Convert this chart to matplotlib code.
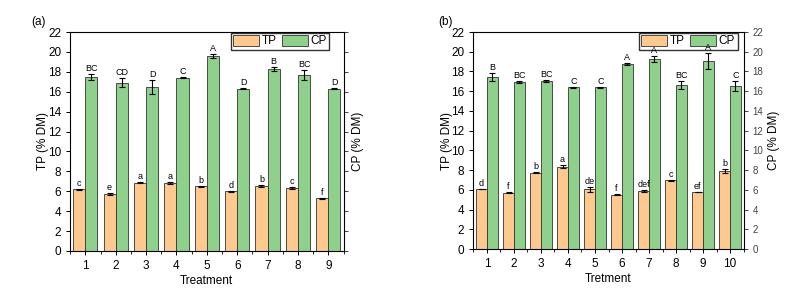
import numpy as np
import matplotlib.pyplot as plt
from matplotlib.ticker import MultipleLocator

plt.rcParams['font.family'] = ['Liberation Sans', 'DejaVu Sans']

# panel (a)
treat_a = np.arange(1, 10)
tp_a = [6.2, 5.7, 6.85, 6.8, 6.5, 6.0, 6.5, 6.3, 5.3]
tp_a_err = [0.05, 0.1, 0.05, 0.1, 0.03, 0.05, 0.1, 0.1, 0.05]
tp_a_lab = ['c', 'e', 'a', 'a', 'b', 'd', 'b', 'c', 'f']
cp_a = [17.45, 16.9, 16.5, 17.4, 19.6, 16.3, 18.3, 17.65, 16.3]
cp_a_err = [0.3, 0.45, 0.7, 0.05, 0.2, 0.05, 0.2, 0.5, 0.05]
cp_a_lab = ['BC', 'CD', 'D', 'C', 'A', 'D', 'B', 'BC', 'D']

# panel (b)
treat_b = np.arange(1, 11)
tp_b = [6.1, 5.7, 7.75, 8.35, 6.05, 5.5, 5.85, 7.0, 5.8, 7.95]
tp_b_err = [0.03, 0.05, 0.03, 0.15, 0.25, 0.05, 0.1, 0.05, 0.02, 0.2]
tp_b_lab = ['d', 'f', 'b', 'a', 'de', 'f', 'def', 'c', 'ef', 'b']
cp_b = [17.45, 16.95, 17.0, 16.4, 16.4, 18.75, 19.3, 16.6, 19.05, 16.5]
cp_b_err = [0.4, 0.1, 0.1, 0.05, 0.05, 0.1, 0.3, 0.4, 0.8, 0.5]
cp_b_lab = ['B', 'BC', 'BC', 'C', 'C', 'A', 'A', 'BC', 'A', 'C']

tp_col = '#FDC98F'
cp_col = '#8FD18C'

fig = plt.figure(figsize=(7.97, 3.02), dpi=100)


def panel(rect, x, tp, tpe, tpl, cp, cpe, cpl, xlabel, tag, tagx, right_labels, legx):
    ax = fig.add_axes(rect)
    w = 0.4
    ax.bar(x - w / 2, tp, w, color=tp_col, edgecolor='#333333', lw=0.6, label='TP')
    ax.bar(x + w / 2, cp, w, color=cp_col, edgecolor='#333333', lw=0.6, label='CP')
    ax.errorbar(x - w / 2, tp, yerr=tpe, fmt='none', ecolor='black', elinewidth=0.8, capsize=2, capthick=0.8)
    ax.errorbar(x + w / 2, cp, yerr=cpe, fmt='none', ecolor='black', elinewidth=0.8, capsize=2, capthick=0.8)
    for xi, v, e, s in zip(x, tp, tpe, tpl):
        ax.text(xi - w / 2, v + e + 0.1, s, ha='center', va='bottom', fontsize=6.5)
    for xi, v, e, s in zip(x, cp, cpe, cpl):
        ax.text(xi + w / 2, v + e + 0.1, s, ha='center', va='bottom', fontsize=6.5)
    ax.set_xlim(0.5, x[-1] + 0.5)
    ax.set_ylim(0, 22)
    ax.set_xticks(x)
    ax.xaxis.set_minor_locator(MultipleLocator(0.5))
    ax.yaxis.set_major_locator(MultipleLocator(2))
    ax.tick_params(direction='out', labelsize=8.5, length=3, width=0.7)
    ax.tick_params(axis='x', which='minor', length=2, width=0.6)
    ax.set_xlabel(xlabel, fontsize=8.5, labelpad=2)
    ax.set_ylabel('TP (% DM)', fontsize=8.5, labelpad=-1)
    for sp in ax.spines.values():
        sp.set_linewidth(0.7)
    ax2 = ax.twinx()
    ax2.set_ylim(0, 22)
    ax2.yaxis.set_major_locator(MultipleLocator(2))
    ax2.tick_params(direction='out', labelsize=7, length=3, width=0.7, labelright=right_labels, colors='#444444')
    ax2.set_ylabel('CP (% DM)', fontsize=8.5, labelpad=3)
    leg = ax.legend(loc='upper right', bbox_to_anchor=(legx, 1.0), ncol=2, fontsize=8.5, frameon=True,
                    fancybox=False, edgecolor='black', handlelength=2.2, handleheight=1.05,
                    columnspacing=0.4, handletextpad=0.25, borderpad=0.2, borderaxespad=0.05)
    leg.set_zorder(1)
    ax.text(tagx, 1.045, tag, transform=ax.transAxes, fontsize=8.5, ha='center', va='center')


panel([0.088, 0.169, 0.343, 0.725], treat_a, tp_a, tp_a_err, tp_a_lab, cp_a, cp_a_err, cp_a_lab,
      'Treatment', '(a)', -0.117, False, 0.95)
panel([0.594, 0.175, 0.339, 0.719], treat_b, tp_b, tp_b_err, tp_b_lab, cp_b, cp_b_err, cp_b_lab,
      'Tretment', '(b)', -0.104, True, 0.98)

fig.savefig('out.png', dpi=100)
